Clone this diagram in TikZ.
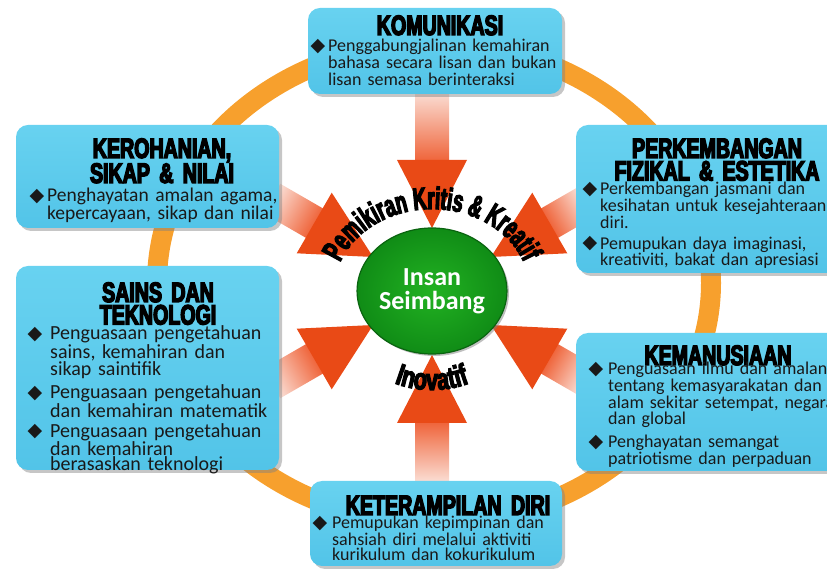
\documentclass[tikz,border=0pt]{standalone}
\usepackage{fontspec}
\setmainfont{Carlito}
\newfontfamily\headfont[FakeStretch=0.7,BoldFeatures={FakeBold=5}]{Liberation Sans}
\newfontfamily\arcfont[FakeStretch=0.6,BoldFeatures={FakeBold=4}]{Liberation Sans}
\newfontfamily\inofont[FakeStretch=0.72,BoldFeatures={FakeBold=4}]{Liberation Sans}
\newfontfamily\symfont{DejaVu Sans}
\usetikzlibrary{shadows,shapes.geometric,decorations.text}

\definecolor{ringorange}{RGB}{247,160,45}
\definecolor{panelhi}{RGB}{104,210,240}
\definecolor{panello}{RGB}{82,196,232}
\definecolor{arrowhead}{RGB}{233,74,22}
\definecolor{arrowmid}{RGB}{239,100,58}
\definecolor{arrowtail}{RGB}{251,224,215}
\definecolor{hubin}{RGB}{34,178,34}
\definecolor{hubout}{RGB}{16,140,22}
\definecolor{hubrim}{RGB}{10,100,16}

\newcommand{\bul}[1][3pt]{\makebox[0pt][r]{\raisebox{0.5pt}{\symfont\fontsize{19}{19}\selectfont ◆}\hspace{#1}}}

\begin{document}
\begin{tikzpicture}[x=1pt,y=1pt,
    panel/.style={rectangle, rounded corners=12pt, inner sep=0pt,
      top color=panelhi, bottom color=panello,
      drop shadow={shadow xshift=3pt, shadow yshift=-3pt, opacity=0.45}},
    heading/.style={font=\headfont\bfseries\fontsize{28}{22.5}\selectfont,
      text width=280pt, align=center, inner sep=0pt, anchor=base},
    bodytext/.style={font=\fontsize{18}{15}\selectfont, text=black!90,
      text width=300pt, align=left, inner sep=0pt, anchor=base west},
    hub/.style={ellipse, minimum width=136pt, minimum height=126pt, inner sep=0pt,
      inner color=hubin, outer color=hubout, draw=hubrim, line width=1.2pt,
      drop shadow={shadow xshift=2pt, shadow yshift=-2pt, opacity=0.5},
      text=white, font=\bfseries\fontsize{26}{24}\selectfont, align=center}]

    \useasboundingbox (0,0) rectangle (827,570);

    % Orange ring
    \draw[ringorange, line width=20pt] (434,287) ellipse [x radius=277, y radius=240];

    % Block arrows towards the centre
    \foreach \ang/\tip/\tail in {90/63/200, 270/64/192, 150/68/185, 30/68/178, 210/68/185, 330/68/178}{
      \begin{scope}[transform canvas={shift={(432,279)}, rotate=\ang}]
        \shade[left color=arrowmid, right color=arrowtail] ({\tip+67},17) rectangle (\tail,-17);
        \fill[arrowhead] (\tip,0) -- ({\tip+68},35) -- ({\tip+68},-35) -- cycle;
      \end{scope}
    }

    % Centre
    \node[hub] (hub) at (432,279) {Insan\\Seimbang};

    % Panels
    \node[panel, minimum width=254pt, minimum height=86pt] (kom) at (435,519) {};
    \node[panel, minimum width=263pt, minimum height=103pt] (ker) at (147.5,393.5) {};
    \node[panel, minimum width=274pt, minimum height=148pt] (perk) at (713,371) {};
    \node[panel, minimum width=263pt, minimum height=204pt] (sains) at (147.5,202) {};
    \node[panel, minimum width=274pt, minimum height=138pt] (keman) at (713,168) {};
    \node[panel, minimum width=252pt, minimum height=85pt] (keter) at (436,46.5) {};

    % Headings
    \node[heading] (komhead) at (440,535) {KOMUNIKASI};
    \node[heading] (kerhead) at (162,412) {KEROHANIAN,\\SIKAP \& NILAI};
    \node[heading] (perkhead) at (717,412) {PERKEMBANGAN\\FIZIKAL \& ESTETIKA};
    \node[heading] (sainshead) at (158,268) {SAINS DAN\\TEKNOLOGI};
    \node[heading] (kemanhead) at (718,205) {KEMANUSIAAN};
    \node[heading] (keterhead) at (448,55) {KETERAMPILAN DIRI};

    % Bullet texts
    \node[bodytext, font=\fontsize{18}{17}\selectfont] (komtxt) at (328,518)
      {\bul Penggabungjalinan kemahiran\\bahasa secara lisan dan bukan\\lisan semasa berinteraksi};
    \node[bodytext, font=\fontsize{19.5}{15}\selectfont] (kertxt) at (47,368)
      {\bul[3pt]Penghayatan amalan agama,\\kepercayaan, sikap dan nilai};
    \node[bodytext] (perktxt) at (600,375)
      {\bul Perkembangan jasmani dan\\kesihatan untuk kesejahteraan\\diri.\\[6pt]
       \bul Pemupukan daya imaginasi,\\kreativiti, bakat dan apresiasi};
    \node[bodytext, font=\fontsize{20}{15}\selectfont] (sainstxt) at (50,230)
      {\bul[8pt]Penguasaan pengetahuan\\sains, kemahiran dan\\sikap saintifik\\[5pt]
       \bul[8pt]Penguasaan pengetahuan\\dan kemahiran matematik\\[5pt]
       \bul[8pt]Penguasaan pengetahuan\\dan kemahiran\\berasaskan teknologi};
    \node[bodytext] (kemantxt) at (608,195)
      {\bul[5pt]Penguasaan ilmu dan amalan\\tentang kemasyarakatan dan\\alam sekitar setempat, negara\\dan global\\[6pt]
       \bul[5pt]Penghayatan semangat\\patriotisme dan perpaduan};
    \node[bodytext] (ketertxt) at (332,41)
      {\bul[5pt]Pemupukan kepimpinan dan\\sahsiah diri melalui aktiviti\\kurikulum dan kokurikulum};

    % Curved words round the centre
    \path[decorate, decoration={text along path, text align=center,
        text={|\arcfont\bfseries\fontsize{31}{31}\selectfont|Pemikiran Kritis {\&} Kreatif}}]
      (432,279) ++(162:98 and 82) arc[start angle=162, end angle=18, x radius=98, y radius=82];
    \path[decorate, decoration={text along path, text align=center,
        text={|\inofont\bfseries\fontsize{30}{30}\selectfont|Inovatif}}]
      (432,279) ++(230:103 and 99) arc[start angle=230, end angle=310, x radius=103, y radius=99];
\end{tikzpicture}
\end{document}
